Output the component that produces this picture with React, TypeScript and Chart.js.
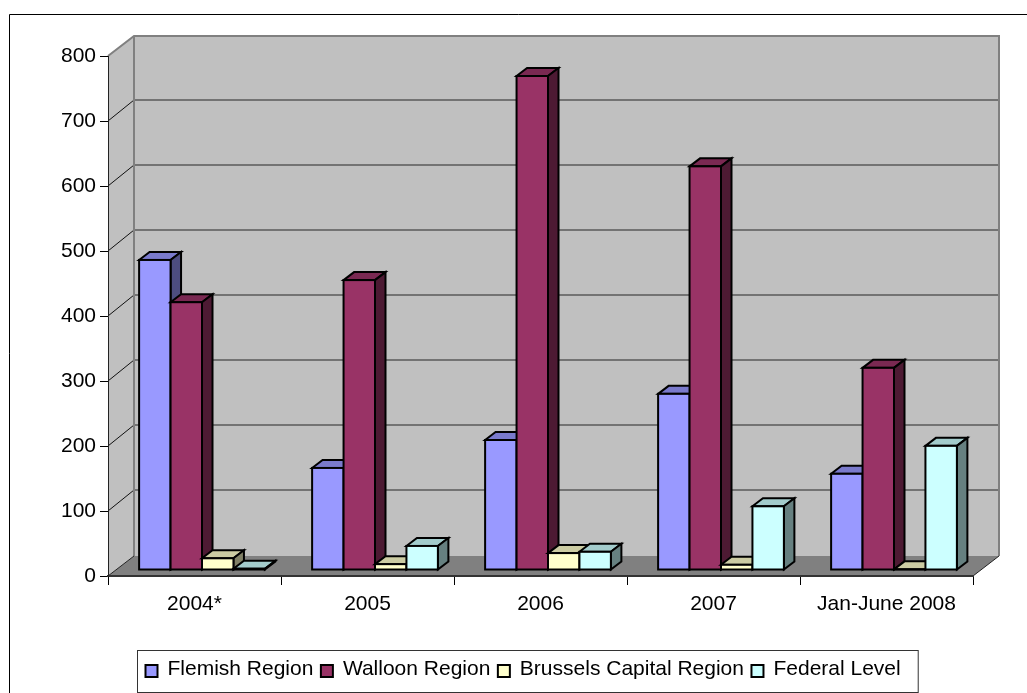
import React, { useEffect, useRef } from "react";
import { Chart, registerables } from "chart.js";

Chart.register(...registerables);

const categories = ["2004*", "2005", "2006", "2007", "Jan-June 2008"];
const seriesNames = ["Flemish Region", "Walloon Region", "Brussels Capital Region", "Federal Level"];
const flemish = [477, 157, 200, 271, 148];
const walloon = [412, 446, 760, 621, 311];
const brussels = [18, 9, 26, 8, 1];
const federal = [2, 37, 28, 98, 191];
const frontColors = ["#9999FF", "#993366", "#FFFFCC", "#CCFFFF"];
const topColors = ["#7A7ACC", "#7A2952", "#CCCCA3", "#A3CCCC"];
const sideColors = ["#4D4D80", "#4D1A33", "#808066", "#668080"];

const FONT_SIZE = 21;
const FONT_FAMILY = '"Liberation Sans", Arial, sans-serif';
const WALL_DX = 26;
const WALL_DY = -20;
const GRID_DY = -21;
const BAR_SHIFT_X = 7.5;
const BAR_SHIFT_Y = -6;
const BAR_DEPTH_X = 10.5;
const BAR_DEPTH_Y = -8;

const poly = (ctx: CanvasRenderingContext2D, pts: number[][], fill: string, stroke?: string, lw = 2) => {
  ctx.beginPath();
  pts.forEach((p, i) => (i ? ctx.lineTo(p[0], p[1]) : ctx.moveTo(p[0], p[1])));
  ctx.closePath();
  ctx.fillStyle = fill;
  ctx.fill();
  if (stroke) {
    ctx.strokeStyle = stroke;
    ctx.lineWidth = lw;
    ctx.lineJoin = "miter";
    ctx.stroke();
  }
};

const box3d = {
  id: "box3d",
  beforeDraw(chart: any) {
    const { ctx, chartArea: a, scales } = chart;
    ctx.save();
    // outer chart frame, open on the page's right and bottom edges
    ctx.strokeStyle = "#000";
    ctx.lineWidth = 1;
    ctx.beginPath();
    ctx.moveTo(9.5, chart.height);
    ctx.lineTo(9.5, 14.5);
    ctx.lineTo(chart.width, 14.5);
    ctx.stroke();
    // side wall
    poly(ctx, [[a.left, a.top], [a.left + WALL_DX, a.top + WALL_DY], [a.left + WALL_DX, a.bottom + WALL_DY], [a.left, a.bottom]], "#C0C0C0");
    // back wall
    poly(ctx, [[a.left + WALL_DX, a.top + WALL_DY], [a.right + WALL_DX, a.top + WALL_DY], [a.right + WALL_DX, a.bottom + WALL_DY], [a.left + WALL_DX, a.bottom + WALL_DY]], "#C0C0C0");
    // floor
    poly(ctx, [[a.left, a.bottom], [a.left + WALL_DX, a.bottom + WALL_DY], [a.right + WALL_DX, a.bottom + WALL_DY], [a.right, a.bottom]], "#808080");
    // grid lines on walls
    const y = scales.y;
    y.ticks.forEach((t: any) => {
      const py = Math.round(y.getPixelForValue(t.value));
      if (t.value > 0 && t.value < 800) {
        ctx.strokeStyle = "#5A5A5A";
        ctx.lineWidth = 1.5;
        ctx.beginPath();
        ctx.moveTo(a.left + WALL_DX, py + GRID_DY);
        ctx.lineTo(a.right + WALL_DX, py + GRID_DY);
        ctx.stroke();
        ctx.strokeStyle = "#111";
        ctx.lineWidth = 1;
        ctx.beginPath();
        ctx.moveTo(a.left, py);
        ctx.lineTo(a.left + WALL_DX, py + GRID_DY);
        ctx.stroke();
      }
    });
    // wall edges
    ctx.strokeStyle = "#808080";
    ctx.lineWidth = 2;
    ctx.beginPath();
    ctx.moveTo(a.left, a.top);
    ctx.lineTo(a.left + WALL_DX, a.top + WALL_DY);
    ctx.lineTo(a.right + WALL_DX, a.top + WALL_DY);
    ctx.lineTo(a.right + WALL_DX, a.bottom + WALL_DY);
    ctx.moveTo(a.left + WALL_DX, a.top + WALL_DY);
    ctx.lineTo(a.left + WALL_DX, a.bottom + WALL_DY);
    ctx.stroke();
    // floor edges
    ctx.strokeStyle = "#222";
    ctx.lineWidth = 1;
    ctx.beginPath();
    ctx.moveTo(a.left, a.bottom);
    ctx.lineTo(a.left + WALL_DX, a.bottom + WALL_DY);
    ctx.moveTo(a.right, a.bottom);
    ctx.lineTo(a.right + WALL_DX, a.bottom + WALL_DY);
    ctx.stroke();
    ctx.restore();
  },
  // Chart.js paints datasets last-to-first; a 3D row has to be painted left-to-right.
  beforeDatasetsDraw(chart: any) {
    const { ctx } = chart;
    chart.data.datasets.forEach((_: any, i: number) => {
      const meta = chart.getDatasetMeta(i);
      ctx.save();
      ctx.translate(BAR_SHIFT_X, BAR_SHIFT_Y);
      meta.data.forEach((bar: any) => {
        const p = bar.getProps(["x", "y", "base", "width"], true);
        const l = p.x - p.width / 2;
        const r = p.x + p.width / 2;
        poly(ctx, [[l, p.y], [l + BAR_DEPTH_X, p.y + BAR_DEPTH_Y], [r + BAR_DEPTH_X, p.y + BAR_DEPTH_Y], [r, p.y]], topColors[i], "#000");
        poly(ctx, [[r, p.y], [r + BAR_DEPTH_X, p.y + BAR_DEPTH_Y], [r + BAR_DEPTH_X, p.base + BAR_DEPTH_Y], [r, p.base]], sideColors[i], "#000");
      });
      meta.controller.draw();
      meta.data.forEach((bar: any) => {
        const p = bar.getProps(["x", "y", "base", "width"], true);
        ctx.strokeStyle = "#000";
        ctx.lineWidth = 2;
        ctx.strokeRect(p.x - p.width / 2, p.y, p.width, p.base - p.y);
      });
      ctx.restore();
    });
    return false;
  },
  afterDraw(chart: any) {
    const { ctx } = chart;
    ctx.save();
    ctx.font = `${FONT_SIZE}px ${FONT_FAMILY}`;
    ctx.textBaseline = "middle";
    ctx.textAlign = "left";
    const left = 137.5;
    const top = 650.5;
    const names: string[] = chart.data.datasets.map((d: any) => d.label);
    let x = left + 8;
    const positions = names.map((n) => {
      const at = x;
      x += 22 + ctx.measureText(n).width + 7.5;
      return at;
    });
    ctx.strokeStyle = "#333";
    ctx.lineWidth = 1;
    ctx.strokeRect(left, top, x + 10 - left, 42);
    names.forEach((n, i) => {
      ctx.fillStyle = frontColors[i];
      ctx.fillRect(positions[i], 665, 12, 12);
      ctx.strokeStyle = "#000";
      ctx.lineWidth = 2;
      ctx.strokeRect(positions[i], 665, 12, 12);
      ctx.fillStyle = "#000";
      ctx.fillText(n, positions[i] + 22, 669.5);
    });
    ctx.restore();
  },
};

export default function App() {
  const ref = useRef<HTMLCanvasElement>(null);
  useEffect(() => {
    const values = [flemish, walloon, brussels, federal];
    const tickFont = { family: FONT_FAMILY, size: FONT_SIZE };
    const chart = new Chart(ref.current as HTMLCanvasElement, {
      type: "bar",
      data: {
        labels: categories,
        datasets: seriesNames.map((label, i) => ({
          label,
          data: values[i],
          backgroundColor: frontColors[i],
          borderWidth: 0,
          barPercentage: 1,
          categoryPercentage: 0.727,
          clip: false as any,
        })),
      },
      options: {
        animation: false,
        responsive: false,
        layout: { padding: { left: 58, top: 56, right: 54, bottom: 0 } },
        plugins: { legend: { display: false }, title: { display: false }, tooltip: { enabled: false } },
        scales: {
          x: {
            afterFit: (s: any) => { s.height = 117; },
            grid: { drawOnChartArea: false, drawTicks: true, tickLength: 9, color: "#000", lineWidth: 1 },
            border: { display: true, color: "#333", width: 2 },
            ticks: { color: "#000", font: tickFont, padding: 7, maxRotation: 0, autoSkip: false },
          },
          y: {
            min: 0,
            max: 800,
            afterFit: (s: any) => { s.width = 50; },
            grid: { drawOnChartArea: false, drawTicks: true, tickLength: 8, color: "#000", lineWidth: 1 },
            border: { display: true, color: "#222", width: 1 },
            ticks: { stepSize: 100, color: "#000", font: tickFont, padding: 4 },
          },
        },
      },
      plugins: [box3d],
    });
    return () => chart.destroy();
  }, []);
  return (
    <canvas
      ref={ref}
      width={1027}
      height={693}
      style={{ position: "fixed", left: 0, top: 0, width: 1027, height: 693, display: "block" }}
    />
  );
}
